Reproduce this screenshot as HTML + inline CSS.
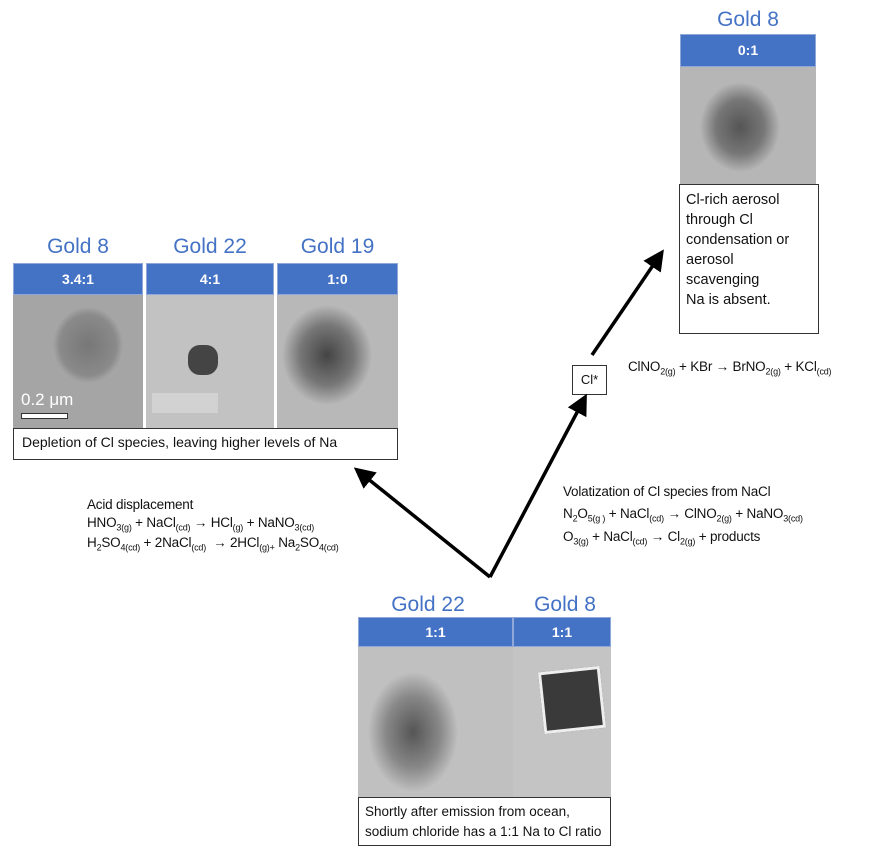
<!DOCTYPE html>
<html><head><style>
body{margin:0;width:873px;height:862px;background:#fff;position:relative;font-family:"Liberation Sans",sans-serif;overflow:hidden}
.a{position:absolute}
.t{color:#4472c4;font-size:21px;text-align:center}
.h{background:#4472c4;color:#fff;font-weight:bold;font-size:14px;text-align:center;border:1px solid #8fa8d8;box-sizing:border-box}
.img{background:#b8b8b8}
.box{border:1px solid #333;background:#fff;box-sizing:border-box;font-size:14px;color:#111;white-space:nowrap}
.eq{font-size:13.5px;color:#111;line-height:1.35;white-space:nowrap;letter-spacing:-0.2px}
sub{font-size:9px}
</style></head><body>
<div class="a t" style="left:680px;top:8px;width:136px">Gold 8</div>
<div class="a h" style="left:680px;top:34px;width:136px;height:33px;line-height:31px">0:1</div>
<div class="a img" style="left:680px;top:67px;width:136px;height:117px;background:radial-gradient(ellipse 40px 45px at 60px 60px,#555,#777 60%,#b6b6b6 100%)"></div>
<div class="a box" style="left:679px;top:184px;width:140px;height:150px;padding:5px 6px;line-height:20px;font-size:14.5px">Cl-rich aerosol<br>through Cl<br>condensation or<br>aerosol<br>scavenging<br>Na is absent.</div>
<div class="a eq" style="left:628px;top:358px">ClNO<sub>2(g)</sub> + KBr → BrNO<sub>2(g)</sub> + KCl<sub>(cd)</sub></div>
<div class="a box" style="left:572px;top:365px;width:35px;height:30px;line-height:28px;text-align:center;font-size:13px">Cl*</div>
<div class="a t" style="left:13px;top:235px;width:130px">Gold 8</div>
<div class="a t" style="left:146px;top:235px;width:128px">Gold 22</div>
<div class="a t" style="left:277px;top:235px;width:121px">Gold 19</div>
<div class="a h" style="left:13px;top:263px;width:130px;height:32px;line-height:30px">3.4:1</div>
<div class="a h" style="left:146px;top:263px;width:128px;height:32px;line-height:30px">4:1</div>
<div class="a h" style="left:277px;top:263px;width:121px;height:32px;line-height:30px">1:0</div>
<div class="a img" style="left:13px;top:295px;width:130px;height:133px;background:radial-gradient(ellipse 35px 38px at 75px 50px,#777,#8a8a8a 80%,#a5a5a5 100%)"><div class="a" style="left:8px;top:95px;color:#fff;font-size:17px">0.2 μm</div><div class="a" style="left:8px;top:118px;width:45px;height:4px;background:#fff;border:1px solid #333"></div></div>
<div class="a img" style="left:146px;top:295px;width:128px;height:133px;background:#c2c2c2"><div class="a" style="left:42px;top:50px;width:30px;height:30px;background:#444;border-radius:40%"></div><div class="a" style="left:6px;top:98px;width:66px;height:20px;background:#d2d2d2"></div></div>
<div class="a img" style="left:277px;top:295px;width:121px;height:133px;background:radial-gradient(ellipse 45px 50px at 50px 60px,#444,#777 60%,#b8b8b8 100%)"></div>
<div class="a box" style="left:13px;top:428px;width:385px;height:32px;padding:5px 8px">Depletion of Cl species, leaving higher levels of Na</div>
<div class="a eq" style="left:87px;top:496px">Acid displacement<br>HNO<sub>3(g)</sub> + NaCl<sub>(cd)</sub> → HCl<sub>(g)</sub> + NaNO<sub>3(cd)</sub><br>H<sub>2</sub>SO<sub>4(cd)</sub> + 2NaCl<sub>(cd)</sub> &nbsp;→ 2HCl<sub>(g)+</sub> Na<sub>2</sub>SO<sub>4(cd)</sub></div>
<div class="a eq" style="left:563px;top:481px;line-height:1.6">Volatization of Cl species from NaCl<br>N<sub>2</sub>O<sub>5(g )</sub> + NaCl<sub>(cd)</sub> → ClNO<sub>2(g)</sub> + NaNO<sub>3(cd)</sub><br>O<sub>3(g)</sub> + NaCl<sub>(cd)</sub> → Cl<sub>2(g)</sub> + products</div>
<div class="a t" style="left:358px;top:593px;width:140px">Gold 22</div>
<div class="a t" style="left:520px;top:593px;width:90px">Gold 8</div>
<div class="a h" style="left:358px;top:617px;width:155px;height:30px;line-height:28px">1:1</div>
<div class="a h" style="left:513px;top:617px;width:98px;height:30px;line-height:28px">1:1</div>
<div class="a img" style="left:358px;top:647px;width:155px;height:150px;background:radial-gradient(ellipse 45px 60px at 55px 85px,#555,#888 60%,#c0c0c0 100%)"></div>
<div class="a img" style="left:513px;top:647px;width:98px;height:150px;background:#c4c4c4"><div class="a" style="left:28px;top:22px;width:56px;height:56px;background:#3a3a3a;border:3px solid #eee;transform:rotate(-6deg)"></div></div>
<div class="a box" style="left:358px;top:797px;width:253px;height:49px;padding:4px 6px;line-height:20px;font-size:13.5px">Shortly after emission from ocean,<br>sodium chloride has a 1:1 Na to Cl ratio</div>
<svg class="a" style="left:0;top:0" width="873" height="862">
<defs><marker id="m" markerWidth="6" markerHeight="6" refX="3" refY="3" orient="auto"><path d="M0,0 L6,3 L0,6 z" fill="#000"/></marker></defs>
<g stroke="#000" stroke-width="3.5" fill="none" marker-end="url(#m)">
<line x1="490" y1="577" x2="362" y2="474"/>
<line x1="490" y1="577" x2="582" y2="403"/>
<line x1="592" y1="355" x2="658" y2="258"/>
</g></svg>
</body></html>
